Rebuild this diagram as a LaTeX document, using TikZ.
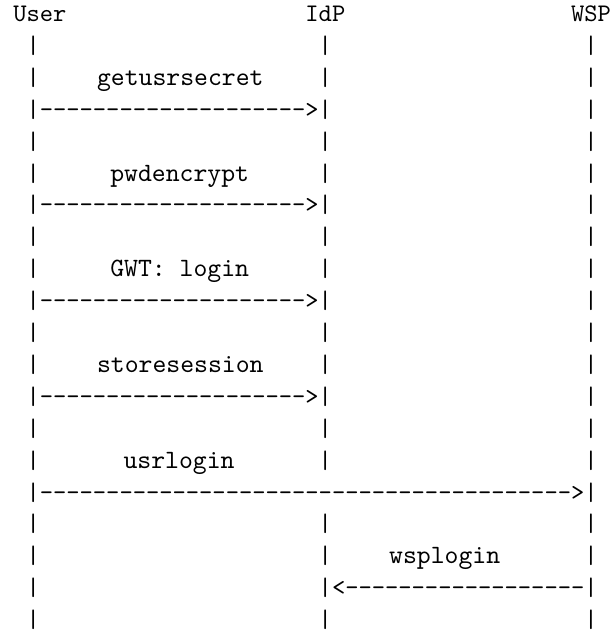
\documentclass[tikz,border=0pt]{standalone}
\tikzset{
  ch/.style={anchor=base west, inner sep=0pt, outer sep=0pt,
             font=\ttfamily\fontsize{10}{12}\selectfont, text=black},
  lbl/.style={ch, xshift=1.6pt, font=\ttfamily\fontsize{10.45}{12}\selectfont},
}
% column width 5.25pt, row pitch 12.61pt, first baseline 8.54pt below top
\newcommand\asciich[4]{\node[ch] (#1) at ({#2*5.25pt},{-8.54pt-#3*12.61pt}) {#4};}
\newcommand\asciilbl[4]{\node[lbl] (#1) at ({#2*5.25pt},{-8.54pt-#3*12.61pt}) {#4};}
\begin{document}
\begin{tikzpicture}
\fill[white] (0,0) rectangle (241.5pt,-249.05pt);
\useasboundingbox (0,0) rectangle (241.5pt,-249.05pt);

% headers
\asciich{user}{1}{0}{User}
\asciich{idp}{23}{0}{IdP}
\asciich{wsp}{43}{0}{WSP}

% lifelines
\foreach \r in {1,...,19}{
  \asciich{ul\r}{2}{\r}{|}
  \asciich{wl\r}{44}{\r}{|}
}
\foreach \r in {1,...,14,16,17,18,19}{
  \asciich{il\r}{24}{\r}{|}
}

% labels
\asciilbl{m1}{7}{2}{getusrsecret}
\asciilbl{m2}{8}{5}{pwdencrypt}
\asciilbl{m3}{8}{8}{GWT: login}
\asciilbl{m4}{7}{11}{storesession}
\asciilbl{m5}{9}{14}{usrlogin}
\asciilbl{m6}{29}{17}{wsplogin}

% User -> IdP messages
\foreach \r in {3,6,9,12}{
  \foreach \c in {3,...,22}{
    \asciich{d\r-\c}{\c}{\r}{-}
  }
  \asciich{t\r}{23}{\r}{>}
}
% User -> WSP
\foreach \c in {3,...,42}{
  \asciich{d15-\c}{\c}{15}{-}
}
\asciich{t15}{43}{15}{>}
% WSP -> IdP
\asciich{t18}{25}{18}{<}
\foreach \c in {26,...,43}{
  \asciich{d18-\c}{\c}{18}{-}
}
\end{tikzpicture}
\end{document}
